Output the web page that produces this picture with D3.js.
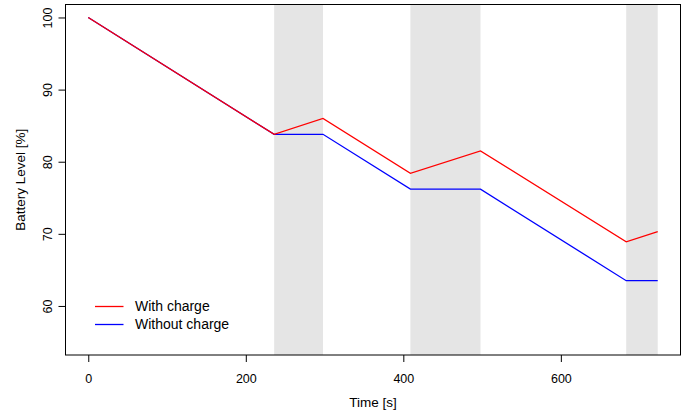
<!DOCTYPE html>
<html>
<head>
<meta charset="utf-8">
<script src="https://cdn.jsdelivr.net/npm/d3@7"></script>
<style>
  html, body { margin: 0; padding: 0; background: #fff; }
  svg { display: block; font-family: "Liberation Sans", Arial, Helvetica, sans-serif; }
</style>
</head>
<body>
<svg id="chart" width="691" height="415"></svg>
<script>
// ---- data ----
const time = [0, 236, 298, 409, 498, 683, 723];
const withCharge = [100, 83.8, 86.0, 78.4, 81.5, 68.9, 70.3];
const withoutCharge = [100, 83.8, 83.8, 76.2, 76.2, 63.5, 63.5];
const chargeStart = [236, 409, 683];
const chargeEnd = [298, 498, 723];
const xTicks = [0, 200, 400, 600];
const yTicks = [60, 70, 80, 90, 100];
const seriesNames = ["With charge", "Without charge"];
const seriesColors = ["#ff0000", "#0000ff"];
const xLimits = [0, 723];
const yLimits = [55, 100];

// ---- layout ----
const W = 691, H = 415;
const plot = { left: 65.5, right: 680.5, top: 4.5, bottom: 355 };

function expand(lim) {
  const d = (lim[1] - lim[0]) * 0.04;
  return [lim[0] - d, lim[1] + d];
}

const x = d3.scaleLinear().domain(expand(xLimits)).range([plot.left, plot.right]);
const y = d3.scaleLinear().domain(expand(yLimits)).range([plot.bottom, plot.top]);

const svg = d3.select("#chart");

// charging regions
svg.append("g").selectAll("rect")
  .data(chargeStart.map((s, i) => [s, chargeEnd[i]]))
  .join("rect")
  .attr("x", d => x(d[0]))
  .attr("width", d => x(d[1]) - x(d[0]))
  .attr("y", plot.top)
  .attr("height", plot.bottom - plot.top)
  .attr("fill", "#e5e5e5");

// lines (blue first, red on top)
const line = d3.line().x(d => x(d[0])).y(d => y(d[1]));
const series = [withoutCharge, withCharge];
const cols = [seriesColors[1], seriesColors[0]];
series.forEach((vals, i) => {
  svg.append("path")
    .datum(time.map((t, j) => [t, vals[j]]))
    .attr("d", line)
    .attr("fill", "none")
    .attr("stroke", cols[i])
    .attr("stroke-width", 1.3);
});

// box
svg.append("rect")
  .attr("x", plot.left).attr("y", plot.top)
  .attr("width", plot.right - plot.left)
  .attr("height", plot.bottom - plot.top)
  .attr("fill", "none")
  .attr("stroke", "#000")
  .attr("stroke-width", 1);

// x axis
const xAxis = d3.axisBottom(x).tickValues(xTicks).tickSize(7).tickPadding(12)
  .tickFormat(d3.format("d"));
const gx = svg.append("g").attr("transform", `translate(0,${plot.bottom})`).call(xAxis);
gx.select(".domain").remove();
gx.selectAll("text").attr("font-size", 12.5).attr("fill", "#000")
  .attr("font-family", "Liberation Sans, Arial, sans-serif");
gx.selectAll("line").attr("stroke", "#000");

// y axis
const yAxis = d3.axisLeft(y).tickValues(yTicks).tickSize(7).tickFormat(d3.format("d"));
const gy = svg.append("g").attr("transform", `translate(${plot.left},0)`).call(yAxis);
gy.select(".domain").remove();
gy.selectAll("line").attr("stroke", "#000");
gy.selectAll("text")
  .attr("font-size", 12.5).attr("fill", "#000")
  .attr("font-family", "Liberation Sans, Arial, sans-serif")
  .attr("x", null).attr("dy", null)
  .attr("text-anchor", "middle")
  .attr("transform", "translate(-18,0) rotate(-90)")
  .attr("dy", "0.35em");

// axis titles
svg.append("text")
  .attr("x", (plot.left + plot.right) / 2)
  .attr("y", 407)
  .attr("text-anchor", "middle")
  .attr("font-size", 13.5)
  .text("Time [s]");

svg.append("text")
  .attr("transform", `translate(25,${(plot.top + plot.bottom) / 2}) rotate(-90)`)
  .attr("text-anchor", "middle")
  .attr("font-size", 13.5)
  .text("Battery Level [%]");

// legend
const legend = svg.append("g");
seriesNames.forEach((name, i) => {
  const ly = 306.5 + i * 18;
  legend.append("line")
    .attr("x1", 95).attr("x2", 123.5)
    .attr("y1", ly).attr("y2", ly)
    .attr("stroke", seriesColors[i]).attr("stroke-width", 1.3);
  legend.append("text")
    .attr("x", 135).attr("y", ly)
    .attr("dy", "0.35em")
    .attr("font-size", 14)
    .text(name);
});
</script>
</body>
</html>
